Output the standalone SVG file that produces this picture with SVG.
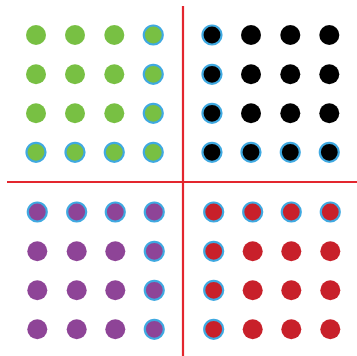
<svg xmlns="http://www.w3.org/2000/svg" width="357" height="356" viewBox="0 0 357 356">
<style>
.g{fill:#78c043}.k{fill:#000}.p{fill:#8e4497}.r{fill:#c8202a}
.o{stroke:#3fa9e1;stroke-width:2.2}
.ln{stroke:#e3262e;stroke-width:2.2;fill:none}
</style>
<rect width="357" height="356" fill="#fff"/>
<g id="connectors">
<line class="ln" x1="183" y1="6" x2="183" y2="356"/>
<line class="ln" x1="7" y1="182" x2="357" y2="182"/>
</g>
<g id="green">
<circle class="g" cx="36" cy="35" r="10"/><circle class="g" cx="75" cy="35" r="10"/><circle class="g" cx="114.3" cy="35" r="10"/><circle class="g o" cx="153.3" cy="35" r="9.5"/>
<circle class="g" cx="36" cy="74.3" r="10"/><circle class="g" cx="75" cy="74.3" r="10"/><circle class="g" cx="114.3" cy="74.3" r="10"/><circle class="g o" cx="153.3" cy="74.3" r="9.5"/>
<circle class="g" cx="36" cy="113.3" r="10"/><circle class="g" cx="75" cy="113.3" r="10"/><circle class="g" cx="114.3" cy="113.3" r="10"/><circle class="g o" cx="153.3" cy="113.3" r="9.5"/>
<circle class="g o" cx="36" cy="152.3" r="9.5"/><circle class="g o" cx="75" cy="152.3" r="9.5"/><circle class="g o" cx="114.3" cy="152.3" r="9.5"/><circle class="g o" cx="153.3" cy="152.3" r="9.5"/>
</g>
<g id="black">
<circle class="k o" cx="212" cy="35" r="9.5"/><circle class="k" cx="251" cy="35" r="10"/><circle class="k" cx="290.3" cy="35" r="10"/><circle class="k" cx="329.3" cy="35" r="10"/>
<circle class="k o" cx="212" cy="74.3" r="9.5"/><circle class="k" cx="251" cy="74.3" r="10"/><circle class="k" cx="290.3" cy="74.3" r="10"/><circle class="k" cx="329.3" cy="74.3" r="10"/>
<circle class="k o" cx="212" cy="113.3" r="9.5"/><circle class="k" cx="251" cy="113.3" r="10"/><circle class="k" cx="290.3" cy="113.3" r="10"/><circle class="k" cx="329.3" cy="113.3" r="10"/>
<circle class="k o" cx="212" cy="152.3" r="9.5"/><circle class="k o" cx="251" cy="152.3" r="9.5"/><circle class="k o" cx="290.3" cy="152.3" r="9.5"/><circle class="k o" cx="329.3" cy="152.3" r="9.5"/>
</g>
<g id="purple">
<circle class="p o" cx="37.3" cy="212" r="9.5"/><circle class="p o" cx="76.7" cy="212" r="9.5"/><circle class="p o" cx="115.3" cy="212" r="9.5"/><circle class="p o" cx="154.3" cy="212" r="9.5"/>
<circle class="p" cx="37.3" cy="251.3" r="10"/><circle class="p" cx="76.7" cy="251.3" r="10"/><circle class="p" cx="115.3" cy="251.3" r="10"/><circle class="p o" cx="154.3" cy="251.3" r="9.5"/>
<circle class="p" cx="37.3" cy="290.3" r="10"/><circle class="p" cx="76.7" cy="290.3" r="10"/><circle class="p" cx="115.3" cy="290.3" r="10"/><circle class="p o" cx="154.3" cy="290.3" r="9.5"/>
<circle class="p" cx="37.3" cy="329.3" r="10"/><circle class="p" cx="76.7" cy="329.3" r="10"/><circle class="p" cx="115.3" cy="329.3" r="10"/><circle class="p o" cx="154.3" cy="329.3" r="9.5"/>
</g>
<g id="red">
<circle class="r o" cx="213.7" cy="212" r="9.5"/><circle class="r o" cx="252.7" cy="212" r="9.5"/><circle class="r o" cx="291.3" cy="212" r="9.5"/><circle class="r o" cx="330.3" cy="212" r="9.5"/>
<circle class="r o" cx="213.7" cy="251.3" r="9.5"/><circle class="r" cx="252.7" cy="251.3" r="10"/><circle class="r" cx="291.3" cy="251.3" r="10"/><circle class="r" cx="330.3" cy="251.3" r="10"/>
<circle class="r o" cx="213.7" cy="290.3" r="9.5"/><circle class="r" cx="252.7" cy="290.3" r="10"/><circle class="r" cx="291.3" cy="290.3" r="10"/><circle class="r" cx="330.3" cy="290.3" r="10"/>
<circle class="r o" cx="213.7" cy="329.3" r="9.5"/><circle class="r" cx="252.7" cy="329.3" r="10"/><circle class="r" cx="291.3" cy="329.3" r="10"/><circle class="r" cx="330.3" cy="329.3" r="10"/>
</g>
</svg>
